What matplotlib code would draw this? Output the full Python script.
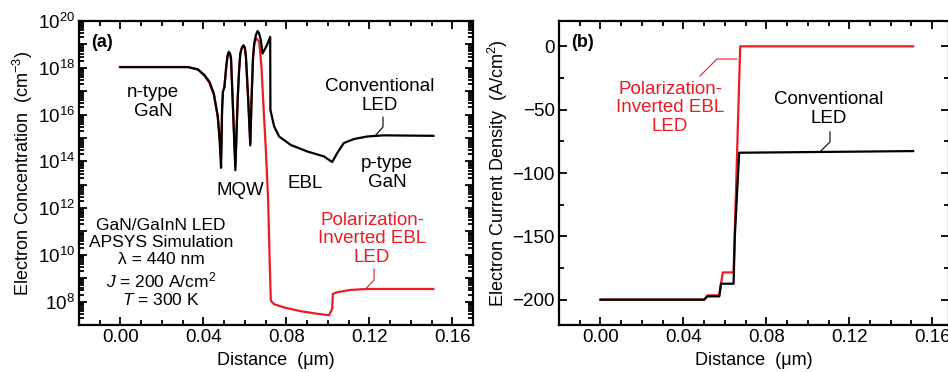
import numpy as np
import matplotlib
matplotlib.use('Agg')
import matplotlib.pyplot as plt
from matplotlib.ticker import LogLocator, FuncFormatter, MultipleLocator, NullFormatter

plt.rcParams['font.family'] = ['Liberation Sans', 'DejaVu Sans']
plt.rcParams['mathtext.fontset'] = 'custom'
plt.rcParams['mathtext.rm'] = 'Liberation Sans'
plt.rcParams['mathtext.it'] = 'Liberation Sans:italic'
plt.rcParams['mathtext.bf'] = 'Liberation Sans:bold'
plt.rcParams['axes.unicode_minus'] = True

RED = '#ec1c24'

# (a) electron concentration, log10(n) vs distance (um)
conv_x = [0.000, 0.0325, 0.0373, 0.0405, 0.0429, 0.0450, 0.0469, 0.0478, 0.0485, 0.0490,
          0.0494, 0.0501, 0.0510, 0.0516, 0.0522, 0.0528, 0.0533, 0.0541, 0.0554, 0.0565,
          0.0572, 0.0578, 0.0586, 0.0594, 0.0600, 0.0605, 0.0616, 0.0626, 0.0632, 0.0639,
          0.0645, 0.0653, 0.0661, 0.0668, 0.0677, 0.0685, 0.0706, 0.0722,
          0.0723, 0.0741, 0.0765, 0.0821, 0.0901, 0.0981, 0.1021, 0.1045, 0.1077, 0.1125,
          0.1189, 0.1269, 0.1509]
conv_logn = [18.03, 18.03, 17.93, 17.69, 17.40, 16.91, 15.91, 14.92, 13.72, 16.20,
             16.98, 17.16, 18.04, 18.50, 18.68, 18.62, 18.40, 16.62, 13.62, 16.62,
             17.90, 18.61, 18.88, 18.96, 18.85, 18.47, 16.62, 14.68, 16.62, 18.40,
             19.04, 19.40, 19.57, 19.48, 19.18, 18.61, 18.96, 19.32,
             16.20, 15.49, 15.06, 14.70, 14.42, 14.21, 13.97, 14.35, 14.78, 14.95,
             15.06, 15.11, 15.09]

piebl_x = [-0.0003, 0.0325, 0.0373, 0.0405, 0.0429, 0.0450, 0.0469, 0.0478, 0.0485, 0.0490,
           0.0494, 0.0501, 0.0510, 0.0516, 0.0522, 0.0528, 0.0533, 0.0541, 0.0554, 0.0565,
           0.0572, 0.0578, 0.0586, 0.0594, 0.0600, 0.0605, 0.0616, 0.0626, 0.0632, 0.0639,
           0.0645, 0.0651, 0.0656, 0.0669, 0.0680, 0.0688, 0.0701,
           0.0712, 0.0718, 0.0725, 0.0741, 0.0789, 0.0869, 0.0949, 0.1005, 0.1013, 0.1021,
           0.1024, 0.1045, 0.1109, 0.1189, 0.1509]
piebl_logn = [18.03, 18.03, 17.93, 17.66, 17.35, 16.85, 15.95, 15.10, 14.10, 16.20,
              16.98, 17.16, 18.04, 18.48, 18.64, 18.60, 18.40, 16.62, 13.80, 16.62,
              17.90, 18.61, 18.86, 18.93, 18.83, 18.47, 16.62, 14.80, 16.62, 18.40,
              19.00, 19.20, 19.25, 19.11, 18.04, 16.62, 14.50,
              12.37, 10.24, 8.04, 7.89, 7.75, 7.59, 7.48, 7.42, 7.55, 7.69,
              8.33, 8.40, 8.50, 8.54, 8.54]

# (b) electron current density (A/cm2)
conv_jx = [0.000, 0.0500, 0.0516, 0.0573, 0.0581, 0.0642, 0.0648, 0.0669, 0.1508]
conv_j = [-200, -200, -197.4, -197.4, -187.4, -187.4, -150.0, -84.0, -82.7]
piebl_jx = [0.000, 0.0500, 0.0516, 0.0573, 0.0590, 0.0642, 0.0674, 0.1508]
piebl_j = [-200, -200, -196.6, -196.6, -178.5, -178.5, 0.0, 0.0]

fig = plt.figure(figsize=(9.48, 3.72), dpi=100)
ax1 = fig.add_axes([79/948, 47/372, 394/948, 304/372])
ax2 = fig.add_axes([559/948, 47/372, 390/948, 304/372])

ax1.plot(piebl_x, 10**np.array(piebl_logn), color=RED, lw=1.6)
ax1.plot(conv_x, 10**np.array(conv_logn), color='black', lw=1.6)
ax1.set_yscale('log')
ax1.set_xlim(-0.02, 0.17)
ax1.set_ylim(1e7, 1e20)
ax1.yaxis.set_major_locator(LogLocator(base=10, numticks=30))
ax1.yaxis.set_major_formatter(FuncFormatter(
    lambda v, p: r'$10^{%d}$' % round(np.log10(v)) if round(np.log10(v)) % 2 == 0 else ''))
ax1.yaxis.set_minor_locator(LogLocator(base=10, subs=np.arange(2, 10), numticks=30))
ax1.yaxis.set_minor_formatter(NullFormatter())
ax1.set_ylabel('Electron Concentration  (cm$^{-3}$)', fontsize=13, labelpad=2)

ax2.plot(piebl_jx, piebl_j, color=RED, lw=1.6)
ax2.plot(conv_jx, conv_j, color='black', lw=1.6)
ax2.set_xlim(-0.02, 0.1681)
ax2.set_ylim(-220, 20)
ax2.yaxis.set_major_locator(MultipleLocator(50))
ax2.yaxis.set_minor_locator(MultipleLocator(25))
ax2.set_ylabel('Electron Current Density  (A/cm$^2$)', fontsize=13, labelpad=2)

for ax in (ax1, ax2):
    ax.xaxis.set_major_locator(MultipleLocator(0.04))
    ax.xaxis.set_minor_locator(MultipleLocator(0.01))
    ax.xaxis.set_major_formatter(FuncFormatter(lambda v, p: '%.2f' % v))
    ax.set_xlabel('Distance  (\u03bcm)', fontsize=13, labelpad=4)
    ax.tick_params(which='both', direction='in', top=True, right=True, width=1.3,
                   labelsize=13.5, pad=3)
    ax.tick_params(which='major', length=6)
    ax.tick_params(which='minor', length=3.5)
    for s in ax.spines.values():
        s.set_linewidth(1.6)

# panel (a) annotations
t1 = ax1.transAxes
ax1.text(0.058, 0.928, '(a)', transform=t1, fontsize=13, fontweight='bold', ha='center', va='center')
ax1.text(0.188, 0.734, 'n-type\nGaN', transform=t1, fontsize=13.5, ha='center', va='center', linespacing=1.15)
ax1.text(0.409, 0.441, 'MQW', transform=t1, fontsize=13.5, ha='center', va='center')
ax1.text(0.574, 0.467, 'EBL', transform=t1, fontsize=13.5, ha='center', va='center')
ax1.text(0.782, 0.500, 'p-type\nGaN', transform=t1, fontsize=13.5, ha='center', va='center', linespacing=1.15)
ax1.text(0.764, 0.753, 'Conventional\nLED', transform=t1, fontsize=13.5, ha='center', va='center', linespacing=1.15)
ax1.text(0.744, 0.283, 'Polarization-\nInverted EBL\nLED', transform=t1, fontsize=13.5, color=RED,
         ha='center', va='center', linespacing=1.12)
ax1.text(0.208, 0.204, 'GaN/GaInN LED\nAPSYS Simulation\n\u03bb = 440 nm\n'
         '$J$ = 200 A/cm$^2$\n$T$ = 300 K', transform=t1, fontsize=12.5,
         ha='center', va='center', linespacing=1.18)
ax1.plot([0.1266, 0.1266, 0.1227], [10**15.89, 10**15.47, 10**15.08], color='black', lw=0.8)
ax1.plot([0.1223, 0.1223, 0.1179], [10**9.39, 10**8.92, 10**8.52], color=RED, lw=0.8)

# panel (b) annotations
t2 = ax2.transAxes
ax2.text(0.059, 0.928, '(b)', transform=t2, fontsize=13, fontweight='bold', ha='center', va='center')
ax2.text(0.285, 0.714, 'Polarization-\nInverted EBL\nLED', transform=t2, fontsize=13.5, color=RED,
         ha='center', va='center', linespacing=1.12)
ax2.text(0.692, 0.711, 'Conventional\nLED', transform=t2, fontsize=13.5, ha='center', va='center', linespacing=1.15)
ax2.plot([0.0480, 0.0562, 0.0658], [-23.4, -10.0, -10.0], color=RED, lw=0.8)
ax2.plot([0.1107, 0.1107, 0.1059], [-67.6, -75.5, -83.2], color='black', lw=0.8)

fig.savefig('out.png', dpi=100)
